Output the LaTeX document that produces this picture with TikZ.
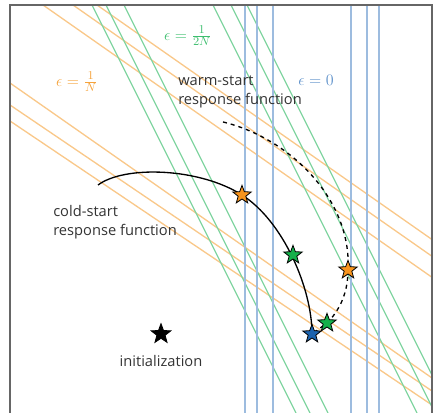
\documentclass[tikz,border=0pt]{standalone}
\usepackage{amsmath,amssymb}
\usepackage[no-math]{fontspec}
\setmainfont{Open Sans}
\usepackage{xcolor}
\usepackage{tikz}
\usetikzlibrary{shapes.geometric, calc}

\definecolor{epsorange}{HTML}{F5A33C}
\definecolor{epsgreen}{HTML}{3DBE6E}
\definecolor{epsblue}{HTML}{5B8FC9}
\definecolor{starorange}{HTML}{F7941D}
\definecolor{stargreen}{HTML}{14B04A}
\definecolor{starblue}{HTML}{1C63AF}

\tikzset{
  olevel/.style={epsorange!60, line width=1pt},
  glevel/.style={epsgreen!65, line width=1pt},
  blevel/.style={epsblue!60, line width=1.1pt},
  eqstar/.style={star, star points=5, star point ratio=2.4, draw=black, line width=0.6pt, minimum size=14.5pt, inner sep=0pt},
  lbl/.style={font=\fontsize{11}{14.25}\selectfont, text=black!80, inner sep=0pt},
  epslbl/.style={font=\fontsize{12.5}{15}\selectfont, inner sep=0pt}
}

\begin{document}
\begin{tikzpicture}[x=0.75pt, y=-0.75pt]
    \useasboundingbox (0,0) rectangle (433,413);

    % Draw level lines
    \begin{scope}
      \clip (10,5) rectangle (432,413);
      % epsilon = 1/N
      \foreach \x in {43, 73, 97} {
        \draw[olevel] (\x,5) -- (432,{5+0.7*(432-\x)});
      }
      \foreach \a/\b in {83/378, 105/391, 121/405} {
        \draw[olevel] (10,\a) -- (432,\b);
      }
      % epsilon = 1/2N
      \foreach \x in {92, 106, 124, 213, 231, 247} {
        \draw[glevel] (\x,5) -- ({\x+204},413);
      }
      % epsilon = 0
      \foreach \x in {245, 257, 273, 351, 367, 379} {
        \draw[blevel] (\x,5) -- (\x,413);
      }
    \end{scope}

    % Frame
    \draw[gray!80!black, line width=1pt] (10,413) -- (10,5) -- (432,5) -- (432,413);

    % Labels
    \node[epslbl, text=epsgreen] (epshalf) at (188,36) {$\epsilon = \frac{1}{2N}$};
    \node[epslbl, text=epsorange] (epsone) at (77,82) {$\epsilon = \frac{1}{N}$};
    \node[epslbl, text=epsblue] (epszero) at (316,80) {$\epsilon = 0$};
    \node[lbl, align=left, anchor=west] (warmlbl) at (178,92) {warm-start\\response function};
    \node[lbl, align=left, anchor=west] (coldlbl) at (53,222) {cold-start\\response function};

    % Response functions
    \coordinate (coldbeg) at (98,185);
    \coordinate (warmbeg) at (223,122);
    \coordinate (co) at (242,195);
    \coordinate (cg) at (293,255);
    \coordinate (nash) at (312,334);
    \coordinate (wo) at (348,270);
    \coordinate (wg) at (327,323);

    \draw[black, line width=1pt] (coldbeg) .. controls (125,165) and (200,168) .. (co)
      .. controls (283,221) and (312,288) .. (nash);
    \draw[black, line width=1pt, dashed] (warmbeg) .. controls (290,138) and (352,200) .. (wo)
      .. controls (348,295) and (338,312) .. (wg) -- (nash);

    % Iterates
    \node[eqstar, fill=starorange] (costar) at (co) {};
    \node[eqstar, fill=stargreen] (cgstar) at (cg) {};
    \node[eqstar, fill=starorange] (wostar) at (wo) {};
    \node[eqstar, fill=stargreen] (wgstar) at (wg) {};
    \node[eqstar, fill=starblue] (nashstar) at (nash) {};
    \node[eqstar, fill=black, minimum size=15.5pt] (initstar) at (161,334) {};
    \node[lbl] (initlbl) at (161,361) {initialization};
  \end{tikzpicture}
\end{document}
